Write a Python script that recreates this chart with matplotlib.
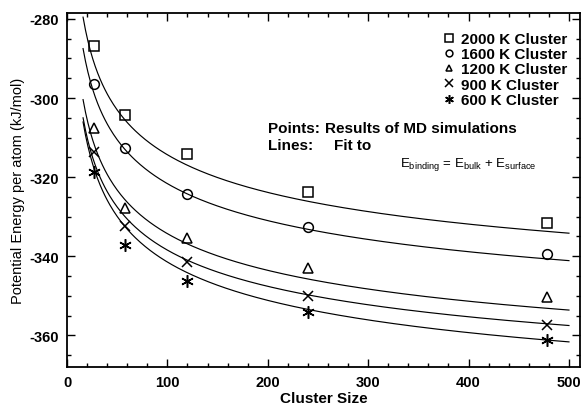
import numpy as np
import matplotlib.pyplot as plt
from matplotlib.ticker import MultipleLocator

plt.rcParams['font.family'] = ['Liberation Sans', 'DejaVu Sans']
plt.rcParams['axes.unicode_minus'] = False
plt.rcParams['mathtext.fontset'] = 'custom'
plt.rcParams['mathtext.rm'] = 'Liberation Sans'
plt.rcParams['mathtext.it'] = 'Liberation Sans'

# cluster sizes of the MD runs
cluster_size = [27, 58, 120, 240, 478]

# potential energy per atom (kJ/mol) at each temperature
e_2000 = [-286.9, -304.4, -314.2, -323.8, -331.5]
e_1600 = [-296.4, -312.7, -324.3, -332.7, -339.4]
e_1200 = [-307.7, -327.7, -335.5, -343.0, -350.4]
e_900 = [-313.6, -332.3, -341.4, -350.0, -357.3]
e_600 = [-318.7, -337.1, -346.2, -354.0, -361.3]

labels = ["2000 K Cluster", "1600 K Cluster", "1200 K Cluster",
          "900 K Cluster", "600 K Cluster"]
markers = ['s', 'o', '^', 'x', (6, 2, 0)]
msizes = [7.5, 7, 6.5, 7.5, 9]

# fit E = E_bulk + E_surf * N^-p
e_bulk = [-374.2, -380.4, -392.6, -396.0, -402.4]
e_surf = [189.3, 185.8, 184.4, 182.0, 192.7]
p_exp = 0.25
fit_range = (16, 500)

fig = plt.figure(figsize=(5.83, 4.06), dpi=100)
ax = fig.add_axes([67/583, 1 - 368/406, 513/583, 354/406])

n_fit = np.linspace(fit_range[0], fit_range[1], 400)
series = [e_2000, e_1600, e_1200, e_900, e_600]
for vals, lab, mk, ms, eb, es in zip(series, labels, markers, msizes, e_bulk, e_surf):
    ax.plot(n_fit, eb + es * n_fit ** (-p_exp), color='black', lw=0.85)
    ax.plot(cluster_size, vals, linestyle='none', marker=mk, ms=ms,
            mfc='none', mec='black', mew=1.1, label=lab)

ax.set_xlim(0, 511)
ax.set_ylim(-368, -278.5)
ax.xaxis.set_major_locator(MultipleLocator(100))
ax.xaxis.set_minor_locator(MultipleLocator(20))
ax.yaxis.set_major_locator(MultipleLocator(20))
ax.yaxis.set_minor_locator(MultipleLocator(5))
ax.tick_params(which='both', direction='in', top=True, right=True,
               width=1.0, labelsize=10.5, pad=6)
ax.tick_params(which='major', length=6)
ax.tick_params(which='minor', length=3)
for lbl in ax.get_xticklabels() + ax.get_yticklabels():
    lbl.set_fontweight('bold')
for s in ax.spines.values():
    s.set_linewidth(1.3)

ax.set_xlabel("Cluster Size", fontsize=11, fontweight='bold', labelpad=1)
ax.set_ylabel("Potential Energy per atom (kJ/mol)", fontsize=10.5, labelpad=3)

leg = ax.legend(loc='upper right', bbox_to_anchor=(500/513, 335/354), frameon=False,
                borderaxespad=0, borderpad=0, labelspacing=0.08, handlelength=0.8,
                handletextpad=0.4, markerscale=0.7,
                prop={'size': 11, 'weight': 'bold'})

note = dict(fontsize=11, va='center', fontweight='bold')
fig.text(268/583, 1 - 129/406, "Points:", **note)
fig.text(325/583, 1 - 129/406, "Results of MD simulations", **note)
fig.text(268/583, 1 - 146/406, "Lines:", **note)
fig.text(334/583, 1 - 146/406, "Fit to", **note)
fig.text(400/583, 1 - 165/406,
         r"E$_{\mathrm{binding}}$ = E$_{\mathrm{bulk}}$ + E$_{\mathrm{surface}}$",
         fontsize=9.5, va='center')

fig.savefig("out.png", dpi=100)
